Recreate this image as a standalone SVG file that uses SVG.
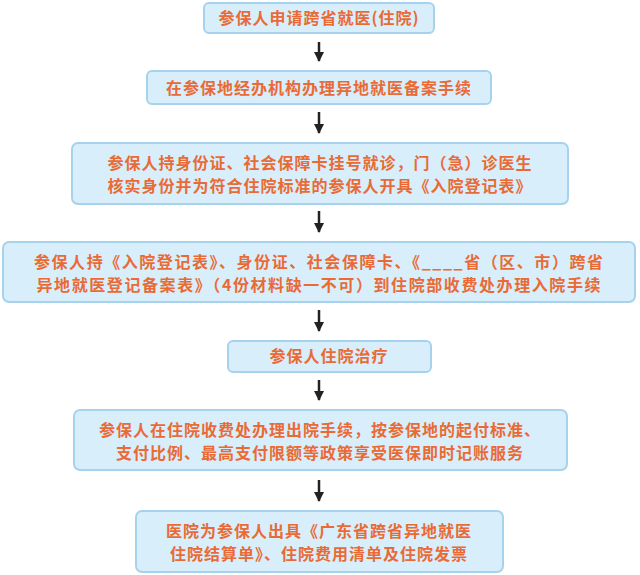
<svg xmlns="http://www.w3.org/2000/svg" width="640" height="575" viewBox="0 0 640 575">
<style>
.b{fill:#d8eefb;stroke:#a6d2ee;stroke-width:2}
.t{font-family:"Noto Sans CJK SC","Liberation Sans",sans-serif;font-size:16px;font-weight:bold;fill:#ea6a35;text-anchor:middle;letter-spacing:1px}
.c line{stroke:#222;stroke-width:2.5}
</style>
<defs><marker id="m" viewBox="0 0 10 10" refX="9" refY="5" markerWidth="4" markerHeight="4" orient="auto"><path d="M0,0 L10,5 L0,10 Z" fill="#222"/></marker></defs>
<rect width="640" height="575" fill="#fff"/>
<g class="c">
<line x1="319" y1="42" x2="319" y2="61" marker-end="url(#m)"/>
<line x1="319" y1="112" x2="319" y2="133" marker-end="url(#m)"/>
<line x1="319" y1="211" x2="319" y2="232" marker-end="url(#m)"/>
<line x1="319" y1="310" x2="319" y2="331" marker-end="url(#m)"/>
<line x1="319" y1="380" x2="319" y2="400" marker-end="url(#m)"/>
<line x1="319" y1="480" x2="319" y2="501" marker-end="url(#m)"/>
</g>
<g id="n1"><rect class="b" x="204" y="3" width="230" height="30" rx="5"/><text class="t" x="319" y="24">参保人申请跨省就医(住院)</text></g>
<g id="n2"><rect class="b" x="147" y="71" width="344" height="33" rx="5"/><text class="t" x="319" y="94">在参保地经办机构办理异地就医备案手续</text></g>
<g id="n3"><rect class="b" x="72" y="143" width="496" height="61" rx="6"/><text class="t" x="320" y="169">参保人持身份证、社会保障卡挂号就诊，门（急）诊医生</text><text class="t" x="320" y="192">核实身份并为符合住院标准的参保人开具《入院登记表》</text></g>
<g id="n4"><rect class="b" x="3" y="242" width="632" height="60" rx="6"/><text class="t" x="319" y="268" textLength="570" lengthAdjust="spacing">参保人持《入院登记表》、身份证、社会保障卡、《____省（区、市）跨省</text><text class="t" x="319" y="291" textLength="565" lengthAdjust="spacing">异地就医登记备案表》（4份材料缺一不可）到住院部收费处办理入院手续</text></g>
<g id="n5"><rect class="b" x="228" y="341" width="203" height="31" rx="5"/><text class="t" x="329" y="362">参保人住院治疗</text></g>
<g id="n6"><rect class="b" x="74" y="410" width="493" height="60" rx="6"/><text class="t" x="320" y="436">参保人在住院收费处办理出院手续，按参保地的起付标准、</text><text class="t" x="320" y="459">支付比例、最高支付限额等政策享受医保即时记账服务</text></g>
<g id="n7"><rect class="b" x="136" y="511" width="367" height="61" rx="6"/><text class="t" x="319" y="537">医院为参保人出具《广东省跨省异地就医</text><text class="t" x="319" y="560">住院结算单》、住院费用清单及住院发票</text></g>
</svg>
